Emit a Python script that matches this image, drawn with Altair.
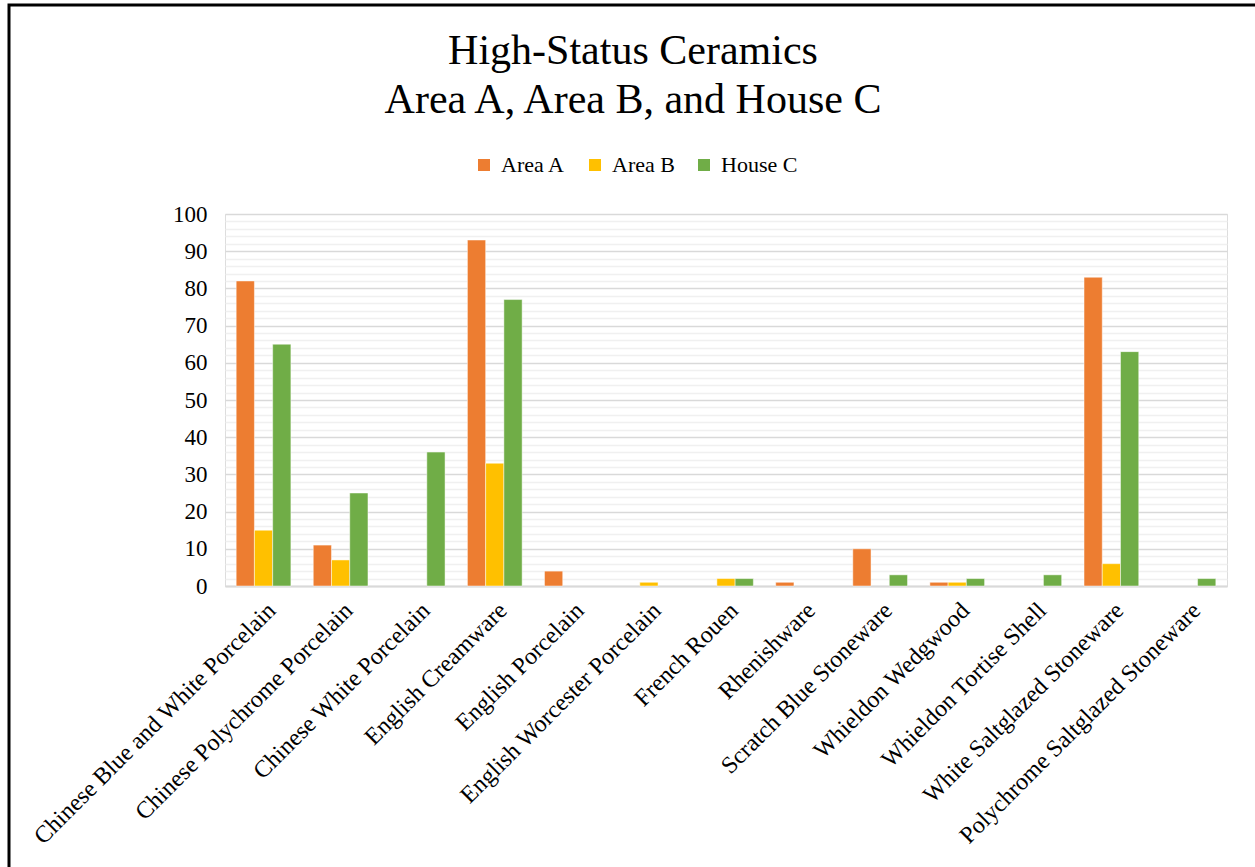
import altair as alt
import pandas as pd

categories = [
    "Chinese Blue and White Porcelain",
    "Chinese Polychrome Porcelain",
    "Chinese White Porcelain",
    "English Creamware",
    "English Porcelain",
    "English Worcester Porcelain",
    "French Rouen",
    "Rhenishware",
    "Scratch Blue Stoneware",
    "Whieldon Wedgwood",
    "Whieldon Tortise Shell",
    "White Saltglazed Stoneware",
    "Polychrome Saltglazed Stoneware",
]
area_a = [82, 11, 0, 93, 4, 0, 0, 1, 10, 1, 0, 83, 0]
area_b = [15, 7, 0, 33, 0, 1, 2, 0, 0, 1, 0, 6, 0]
house_c = [65, 25, 36, 77, 0, 0, 2, 0, 3, 2, 3, 63, 2]
series = ["Area A", "Area B", "House C"]
colors = ["#ED7D31", "#FFC000", "#70AD47"]

rows = []
for name, vals in zip(series, [area_a, area_b, house_c]):
    for c, v in zip(categories, vals):
        rows.append({"category": c, "series": name, "value": v})
df = pd.DataFrame(rows)

FONT = "Liberation Serif"
W, H = 1002, 372
LEFT, TOP = 225, 214

bars = (
    alt.Chart(df)
    .transform_filter("datum.value > 0")
    .mark_bar(stroke="white", strokeWidth=0.8, strokeOpacity=0.6)
    .encode(
        x=alt.X(
            "category:N",
            sort=categories,
            scale=alt.Scale(paddingInner=0.29, paddingOuter=0.145),
            axis=alt.Axis(
                title=None,
                labelAngle=-45,
                labelAlign="right",
                labelBaseline="top",
                labelFont=FONT,
                labelFontSize=24,
                labelColor="#000000",
                labelPadding=12,
                ticks=False,
                domain=True,
                domainColor="#d9d9d9",
                domainWidth=2,
                grid=False,
                labelLimit=600,
            ),
        ),
        xOffset=alt.XOffset("series:N", sort=series),
        y=alt.Y(
            "value:Q",
            scale=alt.Scale(domain=[0, 100], nice=False),
            axis=alt.Axis(
                title=None,
                values=list(range(0, 101, 2)),
                labelExpr="datum.value % 10 === 0 ? datum.label : ''",
                labelFont=FONT,
                labelFontSize=23,
                labelColor="#000000",
                labelPadding=18,
                ticks=False,
                domain=False,
                grid=True,
                gridColor=alt.condition(
                    "datum.value % 10 === 0", alt.value("#d9d9d9"), alt.value("#f0f0f0")
                ),
                gridWidth=1.6,
            ),
        ),
        color=alt.Color(
            "series:N",
            sort=series,
            scale=alt.Scale(domain=series, range=colors),
            legend=alt.Legend(
                title=None,
                orient="none",
                direction="horizontal",
                legendX=248,
                legendY=-60,
                symbolType="square",
                symbolSize=144,
                symbolStrokeWidth=0,
                labelFont=FONT,
                labelFontSize=22,
                labelColor="#000000",
                labelOffset=6,
                columnPadding=18,
            ),
        ),
    )
)

frame = (
    alt.Chart(pd.DataFrame({"a": [0]}))
    .mark_rect(fill=None, stroke="black", strokeWidth=3)
    .encode(
        x=alt.value(9 - LEFT),
        x2=alt.value(1270 - LEFT),
        y=alt.value(5 - TOP),
        y2=alt.value(890 - TOP),
    )
)

chart = (
    alt.layer(bars, frame)
    .properties(
        width=W,
        height=H,
        padding={"left": LEFT, "top": TOP, "right": 1255 - LEFT - W, "bottom": 867 - TOP - H},
        autosize=alt.AutoSizeParams(type="none"),
        title=alt.TitleParams(
            text=["High-Status  Ceramics", "Area A, Area B, and House C"],
            font=FONT,
            fontSize=42,
            fontWeight="normal",
            color="#000000",
            anchor="middle",
            frame="group",
            dx=-93,
            dy=118,
            offset=0,
            lineHeight=49,
        ),
    )
    .configure_view(stroke=None)
    .configure(background="white")
)

chart.save("out.html", embed_options={"renderer": "svg", "actions": False})
